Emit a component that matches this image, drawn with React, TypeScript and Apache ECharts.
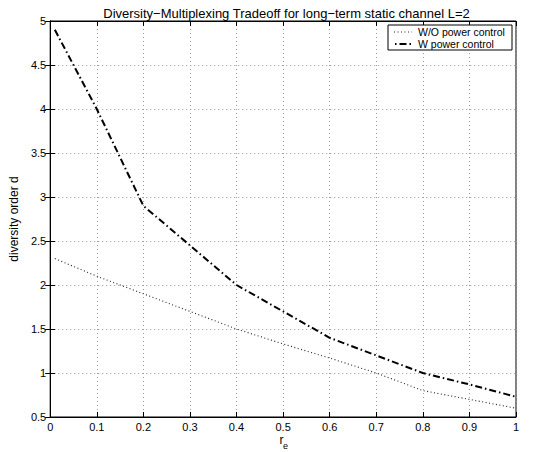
import React, { useEffect, useRef } from "react";
import * as echarts from "echarts";

const rValues = [0.01, 0.1, 0.2, 0.3, 0.4, 0.5, 0.6, 0.7, 0.8, 0.9, 1.0];
const withoutPowerControl = [2.3, 2.1, 1.9, 1.7, 1.5, 1.33, 1.17, 1.0, 0.8, 0.7, 0.6];
const withPowerControl = [4.9, 4.0, 2.9, 2.45, 2.0, 1.7, 1.4, 1.2, 1.0, 0.87, 0.73];
const seriesNames = ["W/O power control", "W power control"];
const titleText = "Diversity\u2212Multiplexing Tradeoff for long\u2212term static channel L=2";
const yAxisName = "diversity order d";

const FONT = "'Liberation Sans', Arial, Helvetica, sans-serif";
const DOTTED = [1, 2.5];
const DASHDOT = [7, 3, 1.5, 3];

export default function App() {
  const ref = useRef<HTMLDivElement>(null);
  useEffect(() => {
    if (!ref.current) return;
    const chart = echarts.init(ref.current, null, { renderer: "svg" });
    const pairs = (ys: number[]) => rValues.map((r, i) => [r, ys[i]]);
    const gridLeft = 47;
    const gridRight = 39;
    const gridTop = 21;
    const gridBottom = 35;
    const plotCenterX = gridLeft + (555 - gridLeft - gridRight) / 2;
    const tickCommon = { show: true, inside: true, length: 5, lineStyle: { color: "#000", width: 1 } };
    const splitLine = { show: true, lineStyle: { color: "#999", type: [1, 3] as any, width: 1 } };

    const legendX = 388;
    const legendY = 25;
    const legendW = 124;
    const legendH = 25;
    const row1 = legendY + 7;
    const row2 = legendY + 19;

    chart.setOption({
      animation: false,
      backgroundColor: "#fff",
      textStyle: { fontFamily: FONT },
      title: {
        text: titleText,
        left: plotCenterX,
        textAlign: "center",
        top: 2,
        textStyle: { fontFamily: FONT, fontSize: 13, fontWeight: "normal", color: "#000" },
      },
      grid: {
        left: gridLeft,
        right: gridRight,
        top: gridTop,
        bottom: gridBottom,
        show: true,
        borderColor: "#000",
        borderWidth: 1,
        backgroundColor: "transparent",
      },
      xAxis: [
        {
          type: "value",
          min: 0,
          max: 1,
          interval: 0.1,
          position: "bottom",
          axisLine: { show: true, lineStyle: { color: "#000" } },
          axisTick: tickCommon,
          splitLine,
          axisLabel: { color: "#000", fontSize: 11, fontFamily: FONT, margin: 4 },
        },
        {
          type: "value",
          min: 0,
          max: 1,
          interval: 0.1,
          position: "top",
          axisLine: { show: true, lineStyle: { color: "#000" } },
          axisTick: tickCommon,
          splitLine: { show: false },
          axisLabel: { show: false },
        },
      ],
      yAxis: [
        {
          type: "value",
          min: 0.5,
          max: 5,
          interval: 0.5,
          position: "left",
          name: yAxisName,
          nameLocation: "middle",
          nameGap: 24,
          nameTextStyle: { color: "#000", fontSize: 12, fontFamily: FONT },
          axisLine: { show: true, lineStyle: { color: "#000" } },
          axisTick: tickCommon,
          splitLine,
          axisLabel: { color: "#000", fontSize: 11, fontFamily: FONT, margin: 4 },
        },
        {
          type: "value",
          min: 0.5,
          max: 5,
          interval: 0.5,
          position: "right",
          axisLine: { show: true, lineStyle: { color: "#000" } },
          axisTick: tickCommon,
          splitLine: { show: false },
          axisLabel: { show: false },
        },
      ],
      graphic: [
        {
          type: "text",
          x: plotCenterX,
          y: 440,
          style: { text: "r", fontSize: 12, fontFamily: FONT, fill: "#000", align: "center", verticalAlign: "middle" },
        },
        {
          type: "text",
          x: plotCenterX + 4,
          y: 446,
          style: { text: "e", fontSize: 9, fontFamily: FONT, fill: "#000", align: "center", verticalAlign: "middle" },
        },
        {
          type: "rect",
          shape: { x: legendX, y: legendY, width: legendW, height: legendH },
          style: { fill: "#fff", stroke: "#000", lineWidth: 1 },
          z: 10,
        },
        {
          type: "line",
          shape: { x1: legendX + 6, y1: row1, x2: legendX + 24, y2: row1 },
          style: { stroke: "#222", lineWidth: 1, lineDash: DOTTED },
          z: 11,
        },
        {
          type: "line",
          shape: { x1: legendX + 6, y1: row2, x2: legendX + 24, y2: row2 },
          style: { stroke: "#000", lineWidth: 2, lineDash: DASHDOT, lineDashOffset: 9 },
          z: 11,
        },
        {
          type: "text",
          x: legendX + 30,
          y: row1,
          style: { text: seriesNames[0], fontSize: 10.5, fontFamily: FONT, fill: "#000", verticalAlign: "middle" },
          z: 11,
        },
        {
          type: "text",
          x: legendX + 30,
          y: row2,
          style: { text: seriesNames[1], fontSize: 10.5, fontFamily: FONT, fill: "#000", verticalAlign: "middle" },
          z: 11,
        },
      ],
      series: [
        {
          name: seriesNames[0],
          type: "line",
          xAxisIndex: 0,
          yAxisIndex: 0,
          data: pairs(withoutPowerControl),
          symbol: "none",
          lineStyle: { color: "#222", width: 1.1, type: DOTTED },
          itemStyle: { color: "#222" },
        },
        {
          name: seriesNames[1],
          type: "line",
          xAxisIndex: 0,
          yAxisIndex: 0,
          data: pairs(withPowerControl),
          symbol: "none",
          lineStyle: { color: "#000", width: 2, type: DASHDOT },
          itemStyle: { color: "#000" },
        },
      ],
    });
    return () => chart.dispose();
  }, []);
  return (
    <div
      ref={ref}
      style={{ position: "fixed", left: 0, top: 0, width: 555, height: 452 }}
    />
  );
}
